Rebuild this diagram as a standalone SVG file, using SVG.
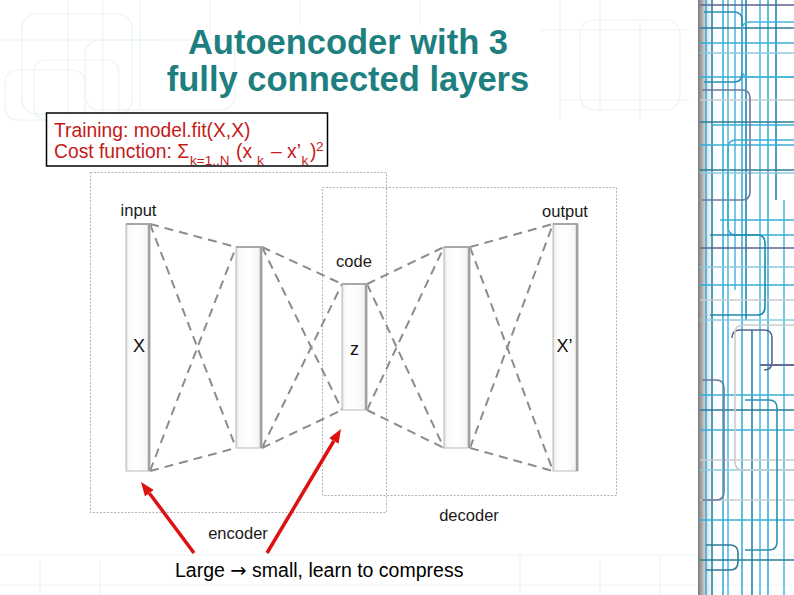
<svg xmlns="http://www.w3.org/2000/svg" width="794" height="595" viewBox="0 0 794 595">
<style>
.faint{fill:none;stroke:#ebf3f6;stroke-width:1.2}
.deco{fill:none;stroke-width:1.6}
.title{font-family:"Liberation Sans",Arial,sans-serif;font-weight:bold;font-size:34.5px;fill:#1e7f80;text-anchor:middle}
.red{font-family:"Liberation Sans",Arial,sans-serif;font-size:19.3px;fill:#c41a1a}
.sub{font-size:13.5px}
.lbl{font-family:"Liberation Sans",Arial,sans-serif;font-size:16.5px;fill:#1a1a1a;text-anchor:middle}
.var{font-family:"Liberation Sans",Arial,sans-serif;font-size:18px;fill:#111;text-anchor:middle}
.box{fill:none;stroke:#b3b3b3;stroke-width:1;stroke-dasharray:2 1.5}
.bar{fill:url(#barg);stroke:#bcbcbc;stroke-width:1}
.bartop{stroke:#a8a8a8;stroke-width:2}
.barside{stroke:#a0a0a0;stroke-width:2.2}
.dash{fill:none;stroke:#8c8c8c;stroke-width:2;stroke-dasharray:9 6}
.redarrow{fill:none;stroke:#dd1111;stroke-width:3.5;marker-end:url(#rhead)}
</style>
<defs>
<linearGradient id="barg" x1="0" y1="0" x2="1" y2="0">
<stop offset="0" stop-color="#dcdcdc"/>
<stop offset="0.12" stop-color="#fafafa"/>
<stop offset="0.5" stop-color="#ffffff"/>
<stop offset="0.85" stop-color="#f6f6f6"/>
<stop offset="1" stop-color="#cccccc"/>
</linearGradient>
<linearGradient id="shade" x1="0" y1="0" x2="1" y2="0">
<stop offset="0" stop-color="#7a7a7a"/>
<stop offset="0.35" stop-color="#c8c8c8"/>
<stop offset="1" stop-color="#ffffff" stop-opacity="0"/>
</linearGradient>
<marker id="rhead" viewBox="0 -6 14 12" refX="0" refY="0" markerWidth="14" markerHeight="12" markerUnits="userSpaceOnUse" orient="auto">
<path d="M0,-5.5 L14,0 L0,5.5 z" fill="#dd1111"/>
</marker>
</defs>
<rect width="794" height="595" fill="#ffffff"/>

<g id="background">
<rect class="faint" x="22" y="14" width="110" height="100" rx="14"/>
<rect class="faint" x="34" y="60" width="85" height="60" rx="12"/>
<rect class="faint" x="85" y="40" width="150" height="70" rx="14"/>
<rect class="faint" x="5" y="70" width="80" height="50" rx="12"/>
<path class="faint" d="M68 0 V120 M103 0 V120 M140 0 V110 M210 0 V30 M300 0 V25 M420 0 V25 M560 0 V120 M600 0 V110 M640 20 V120 M0 40 H160 M540 30 H690 M560 100 H690"/>
<rect class="faint" x="580" y="20" width="100" height="90" rx="14"/>
<path class="faint" d="M0 555 H794 M0 585 H794 M40 560 V595 M100 560 V595 M520 555 V595 M600 560 V595 M660 555 V595"/>
</g>

<g id="side-decoration">
<rect x="698" y="0" width="18" height="595" fill="url(#shade)"/>
<path class="deco" stroke="#3aaed8" d="M706 0 V595 M723 0 V595 M742 0 V595 M768 0 V595"/>
<path class="deco" stroke="#1f88b0" d="M712 0 V595 M746 0 V320 M752 330 V595 M776 0 V200"/>
<path class="deco" stroke="#55bde2" d="M728 0 V595 M735 0 V290 M784 200 V595 M760 0 V595"/>
<path class="deco" stroke="#2a7c9a" d="M700 28 H794 M700 122 H794 M700 170 H794 M700 410 H794 M700 560 H794"/>
<path class="deco" stroke="#5a6590" d="M700 5 H794 M700 248 H794 M760 365 H794"/>
<path class="deco" stroke="#3aaed8" d="M700 43 H794 M700 77 H794 M712 125 H794 M700 145 H794 M720 220 H794 M700 285 H794 M700 395 H794 M700 430 H794 M700 520 H794"/>
<path class="deco" stroke="#8ccbe0" d="M700 53 H794 M700 173 H794 M700 267 H794 M700 320 H794 M700 470 H794"/>
<path class="deco" stroke="#c9cdd0" d="M700 100 H794 M700 300 H794 M700 460 H794 M700 500 H794"/>
<path class="deco" stroke="#2a8fb8" d="M704 12 H734 Q742 12 742 20 V74 Q742 82 734 82 H704"/>
<path class="deco" stroke="#45b5de" d="M794 22 H750 Q742 22 742 30 V70 Q742 77 750 77 H794"/>
<path class="deco" stroke="#6a7aa0" d="M702 90 H742 Q750 90 750 98 V192 Q750 200 742 200 H702"/>
<path class="deco" stroke="#3aaed8" d="M794 140 H736 Q728 140 728 148 V227 Q728 235 736 235 H794"/>
<path class="deco" stroke="#1f88b0" d="M710 235 H757 Q765 235 765 243 V307 Q765 315 757 315 H710"/>
<path class="deco" stroke="#5a6590" d="M760 365 H794 M732 338 Q732 330 740 330 H764 Q772 330 772 338 V362 Q772 370 764 370"/>
<path class="deco" stroke="#c9cdd0" d="M794 325 H743 Q735 325 735 333 V462 Q735 470 743 470 H794"/>
<path class="deco" stroke="#2a8fb8" d="M745 400 H769 Q777 400 777 408 V542 Q777 550 769 550 H745"/>
<path class="deco" stroke="#6a7aa0" d="M702 380 H716 Q724 380 724 388 V492 Q724 500 716 500 H702"/>
<path class="deco" stroke="#2a7c9a" d="M706 545 H730 Q738 545 738 553 V562 Q738 570 730 570 H706"/>
</g>

<g id="title">
<text class="title" x="348" y="54">Autoencoder with 3</text>
<text class="title" x="348" y="91">fully connected layers</text>
</g>

<g id="training-note">
<rect x="46.5" y="113" width="281" height="53" fill="#ffffff" stroke="#000" stroke-width="1.5"/>
<text class="red" x="54" y="137">Training: model.fit(X,X)</text>
<text class="red" y="158"><tspan x="54">Cost function: Σ</tspan><tspan class="sub" x="190" y="165">k=1..N</tspan><tspan x="236" y="158">(x</tspan><tspan class="sub" x="257" y="165">k</tspan><tspan x="271" y="158">– x’</tspan><tspan class="sub" x="301.5" y="165">k</tspan><tspan x="310" y="158">)</tspan><tspan class="sub" x="316" y="151">2</tspan></text>
</g>

<g id="encoder-box">
<rect class="box" x="90.5" y="172.5" width="296" height="340"/>
<text class="lbl" x="238" y="539" font-size="16">encoder</text>
</g>
<g id="decoder-box">
<rect class="box" x="322.5" y="187.5" width="294" height="308"/>
<text class="lbl" x="469" y="521" font-size="16">decoder</text>
</g>

<g id="connectors">
<path class="dash" d="M150 224 L236 247 M150 224 L236 448 M150 471 L236 247 M150 471 L236 448"/>
<path class="dash" d="M262 247 L342 284 M262 247 L342 410 M262 448 L342 284 M262 448 L342 410"/>
<path class="dash" d="M367 284 L444 247 M367 284 L444 448 M367 410 L444 247 M367 410 L444 448"/>
<path class="dash" d="M470 247 L553 224 M470 247 L553 471 M470 448 L553 224 M470 448 L553 471"/>
</g>

<g id="layer-input">
<rect class="bar" x="126" y="224" width="24" height="247"/>
<line class="bartop" x1="126" y1="224" x2="150" y2="224"/>
<line class="barside" x1="149" y1="224" x2="149" y2="471"/>
<text class="lbl" x="138.5" y="216">input</text>
<text class="var" x="139" y="352">X</text>
</g>
<g id="layer-hidden1">
<rect class="bar" x="236" y="247" width="26" height="201"/>
<line class="bartop" x1="236" y1="247" x2="262" y2="247"/>
<line class="barside" x1="261" y1="247" x2="261" y2="448"/>
</g>
<g id="layer-code">
<rect class="bar" x="342" y="284" width="25" height="126"/>
<line class="bartop" x1="342" y1="284" x2="367" y2="284"/>
<line class="barside" x1="366" y1="284" x2="366" y2="410"/>
<text class="lbl" x="354" y="267">code</text>
<text class="var" x="354.5" y="355" font-size="17">z</text>
</g>
<g id="layer-hidden2">
<rect class="bar" x="444" y="247" width="26" height="201"/>
<line class="bartop" x1="444" y1="247" x2="470" y2="247"/>
<line class="barside" x1="469" y1="247" x2="469" y2="448"/>
</g>
<g id="layer-output">
<rect class="bar" x="553" y="224" width="25" height="247"/>
<line class="bartop" x1="553" y1="224" x2="578" y2="224"/>
<line class="barside" x1="577" y1="224" x2="577" y2="471"/>
<text class="lbl" x="565" y="217">output</text>
<text class="var" x="564.5" y="352">X’</text>
</g>

<g id="annotation">
<line class="redarrow" x1="194" y1="553" x2="149.4" y2="493.2"/>
<line class="redarrow" x1="267" y1="553" x2="333.8" y2="441"/>
<text x="175" y="577" font-family="'Liberation Sans',Arial,sans-serif" font-size="19.5" fill="#000">Large <tspan font-family="'DejaVu Sans',sans-serif">→</tspan> small, learn to compress</text>
</g>
</svg>
